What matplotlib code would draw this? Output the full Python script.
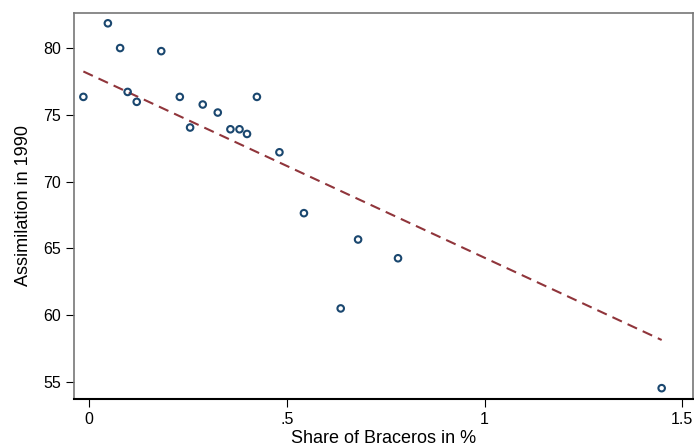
import numpy as np
import matplotlib
matplotlib.use('Agg')
import matplotlib.pyplot as plt
import matplotlib.ticker as ticker

plt.rcParams['font.family'] = ['Liberation Sans', 'DejaVu Sans']

# share of braceros (%) and assimilation index in 1990
share = [-0.015, 0.047, 0.078, 0.097, 0.120, 0.182, 0.229, 0.255, 0.287, 0.325,
         0.357, 0.380, 0.399, 0.424, 0.481, 0.543, 0.636, 0.680, 0.781, 1.448]
assim = [76.33, 81.83, 79.98, 76.70, 75.96, 79.75, 76.33, 74.04, 75.76, 75.16,
         73.91, 73.91, 73.56, 76.33, 72.19, 67.64, 60.52, 65.67, 64.27, 54.56]

# fitted line (endpoints)
fit_x = [-0.015, 1.448]
fit_y = [78.23, 58.16]

xticks = [0, 0.5, 1, 1.5]
xticklabels = ['0', '.5', '1', '1.5']
yticks = [55, 60, 65, 70, 75, 80]


def plotScatter():
    fig = plt.figure(figsize=(6.94, 4.48), dpi=100)
    ax = fig.add_axes([74 / 694, 1 - 399 / 448, (692.5 - 74) / 694, (399 - 13) / 448])

    ax.plot(fit_x, fit_y, color='#90353b', lw=1.5, dashes=(5, 3))
    ax.scatter(share, assim, s=22, facecolors='none', edgecolors='#1a476f', linewidths=1.5, zorder=3)

    ax.set_xlim(-0.0387, 1.526)
    ax.set_ylim(53.75, 82.6)
    ax.set_xticks(xticks)
    ax.set_xticklabels(xticklabels)
    ax.set_yticks(yticks)
    ax.tick_params(labelsize=11.5, length=6, width=0.8, color='black')

    for side in ['top', 'right', 'left']:
        ax.spines[side].set_color('#777777')
        ax.spines[side].set_linewidth(1.2)
    ax.spines['bottom'].set_color('black')
    ax.spines['bottom'].set_linewidth(1.5)

    ax.set_xlabel('Share of Braceros in %', fontsize=13, labelpad=2)
    ax.set_ylabel('Assimilation in 1990', fontsize=13, labelpad=8)

    plt.savefig('out.png', dpi=100)


plotScatter()
